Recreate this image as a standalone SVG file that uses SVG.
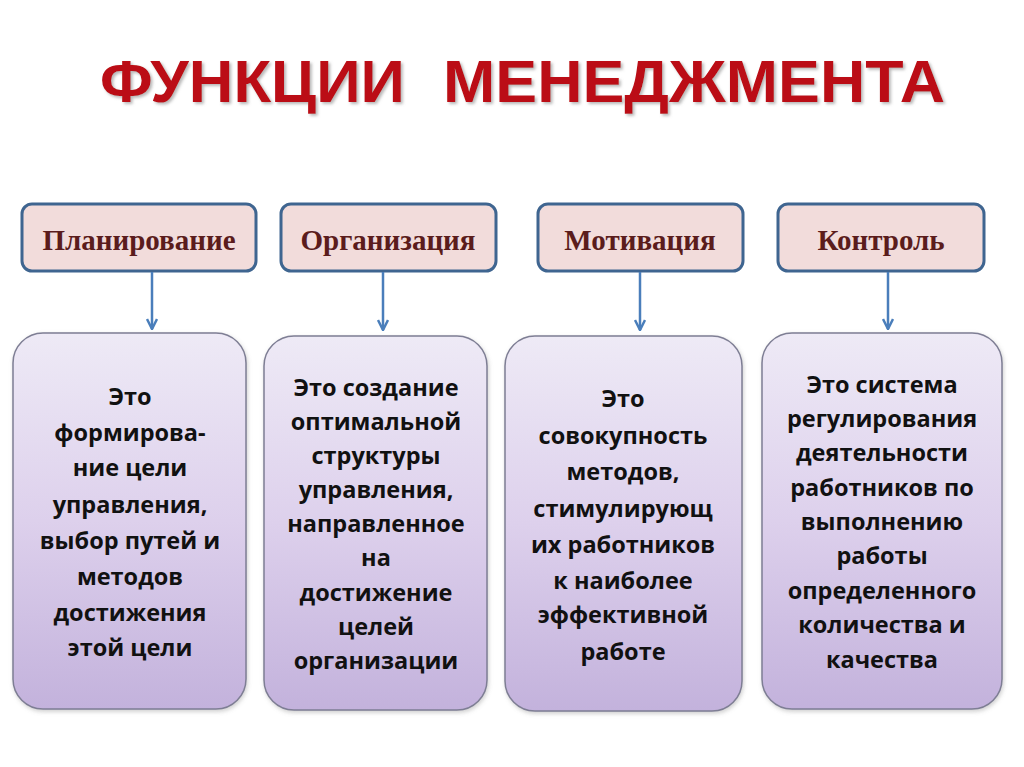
<svg xmlns="http://www.w3.org/2000/svg" width="1024" height="767" viewBox="0 0 1024 767">
<style>
.title{font-family:"Liberation Sans",Arial,sans-serif;font-weight:bold;font-size:60px;fill:#bb0c12;white-space:pre}
.head rect{fill:#f2dcdb;stroke:#3f6590;stroke-width:3}
.head text{font-family:"Liberation Serif","Times New Roman",serif;font-weight:bold;font-size:29px;fill:#5b1c1c;text-anchor:middle}
.body rect{fill:url(#g);stroke:#7e7e94;stroke-width:1.5}
.body text{font-family:"Open Sans","Noto Sans",sans-serif;font-weight:bold;font-size:23.5px;fill:#111;text-anchor:middle}
.conn line{stroke:#4a7ebb;stroke-width:2.5;marker-end:url(#ah)}
</style>
<defs>
<linearGradient id="g" x1="0" y1="0" x2="0" y2="1">
<stop offset="0" stop-color="#eeeaf6"/>
<stop offset="0.5" stop-color="#ddd0ec"/>
<stop offset="1" stop-color="#c3b2dc"/>
</linearGradient>
<filter id="sh" x="-5%" y="-20%" width="110%" height="140%">
<feDropShadow dx="2" dy="2" stdDeviation="1.5" flood-color="#888" flood-opacity="0.6"/>
</filter>
<filter id="bs" x="-10%" y="-10%" width="120%" height="120%">
<feDropShadow dx="1" dy="2" stdDeviation="2" flood-color="#777" flood-opacity="0.35"/>
</filter>
<marker id="ah" viewBox="0 0 10 10" refX="9" refY="5" markerWidth="5" markerHeight="5" orient="auto" markerUnits="strokeWidth">
<path d="M1,1 L9,5 L1,9" fill="none" stroke="#4a7ebb" stroke-width="2"/>
</marker>
</defs>
<rect width="1024" height="767" fill="#fff"/>
<text class="title" y="102" filter="url(#sh)" xml:space="preserve"><tspan x="100" textLength="305" lengthAdjust="spacingAndGlyphs">ФУНКЦИИ</tspan>  <tspan x="443" textLength="502" lengthAdjust="spacingAndGlyphs">МЕНЕДЖМЕНТА</tspan></text>

<g id="h1" class="head"><rect x="22" y="204" width="234" height="67" rx="10"/><text x="139" y="250">Планирование</text></g>
<g id="h2" class="head"><rect x="281" y="204" width="215" height="67" rx="10"/><text x="388" y="250">Организация</text></g>
<g id="h3" class="head"><rect x="538" y="204" width="205" height="67" rx="10"/><text x="640" y="250">Мотивация</text></g>
<g id="h4" class="head"><rect x="778" y="204" width="206" height="67" rx="10"/><text x="881" y="250">Контроль</text></g>

<g id="connectors" class="conn">
<line x1="152" y1="272" x2="152" y2="329"/>
<line x1="383" y1="272" x2="383" y2="330"/>
<line x1="640" y1="272" x2="640" y2="330"/>
<line x1="888" y1="272" x2="888" y2="329"/>
</g>

<g id="b1" class="body"><rect x="13" y="333" width="233" height="376" rx="30" filter="url(#bs)"/>
<text x="130" y="405">Это</text>
<text x="130" y="441">формирова-</text>
<text x="130" y="476">ние цели</text>
<text x="130" y="513">управления,</text>
<text x="130" y="549">выбор путей и</text>
<text x="130" y="585">методов</text>
<text x="130" y="621">достижения</text>
<text x="130" y="656">этой цели</text>
</g>
<g id="b2" class="body"><rect x="264" y="336" width="223" height="374" rx="30" filter="url(#bs)"/>
<text x="376" y="396">Это создание</text>
<text x="376" y="430">оптимальной</text>
<text x="376" y="464">структуры</text>
<text x="376" y="498">управления,</text>
<text x="376" y="532">направленное</text>
<text x="376" y="566">на</text>
<text x="376" y="601">достижение</text>
<text x="376" y="635">целей</text>
<text x="376" y="669">организации</text>
</g>
<g id="b3" class="body"><rect x="505" y="336" width="237" height="375" rx="30" filter="url(#bs)"/>
<text x="623" y="407">Это</text>
<text x="623" y="444">совокупность</text>
<text x="623" y="480">методов,</text>
<text x="623" y="517">стимулирующ</text>
<text x="623" y="553">их работников</text>
<text x="623" y="589">к наиболее</text>
<text x="623" y="623">эффективной</text>
<text x="623" y="660">работе</text>
</g>
<g id="b4" class="body"><rect x="762" y="333" width="240" height="376" rx="30" filter="url(#bs)"/>
<text x="882" y="393">Это система</text>
<text x="882" y="427">регулирования</text>
<text x="882" y="461">деятельности</text>
<text x="882" y="496">работников по</text>
<text x="882" y="530">выполнению</text>
<text x="882" y="564">работы</text>
<text x="882" y="599">определенного</text>
<text x="882" y="633">количества и</text>
<text x="882" y="668">качества</text>
</g>
</svg>
